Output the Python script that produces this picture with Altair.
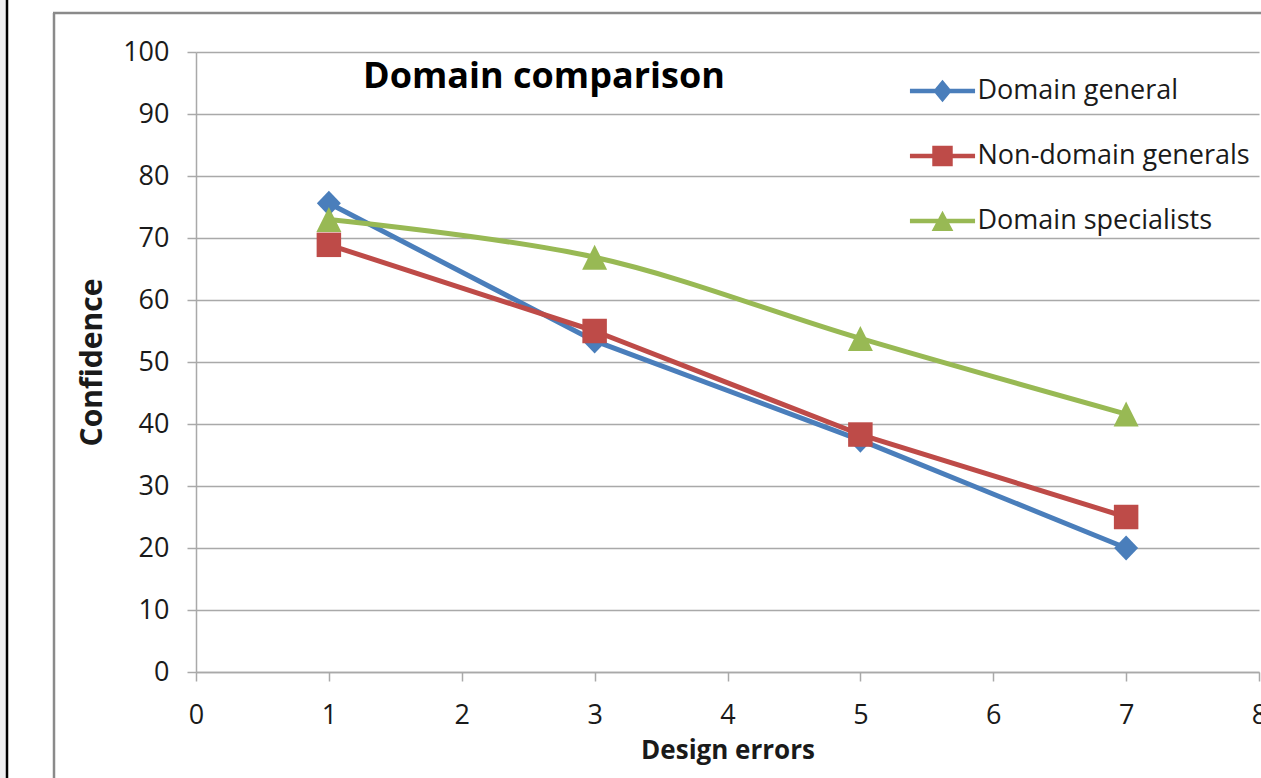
import altair as alt
import pandas as pd

# ---- data ----
x_values = [1, 3, 5, 7]
series_names = ["Domain general", "Non-domain generals", "Domain specialists"]
domain_general = [75.6, 53.4, 37.4, 20.0]
non_domain_generals = [68.9, 55.0, 38.3, 25.0]
domain_specialists = [73.0, 66.9, 53.8, 41.6]
series_colors = ["#4A7EBB", "#BE4B48", "#98B954"]
x_ticks = [0, 1, 2, 3, 4, 5, 6, 7, 8]
y_ticks = [0, 10, 20, 30, 40, 50, 60, 70, 80, 90, 100]

rows = []
for name, vals in zip(series_names, [domain_general, non_domain_generals, domain_specialists]):
    for i, (xv, yv) in enumerate(zip(x_values, vals)):
        rows.append({"series": name, "x": xv, "y": yv, "order": i})
df = pd.DataFrame(rows)

FONT = "Open Sans"
GRAY = "#a9a9a9"
TXT = "#1a1a1a"

color_scale = alt.Scale(domain=series_names, range=series_colors)

x_enc = alt.X(
    "x:Q",
    scale=alt.Scale(domain=[0, 8], nice=False, zero=False),
    axis=alt.Axis(
        values=x_ticks, grid=False, title="Design errors",
        domainColor=GRAY, domainWidth=1.5, tickColor=GRAY, tickWidth=1.5, tickSize=9,
        labelFont=FONT, labelFontSize=27, labelColor=TXT, labelPadding=21,
        labelFlush=False, labelOverlap=False,
        titleFont=FONT, titleFontSize=26, titleFontWeight="bold", titleColor=TXT,
        titleX=531.5, titleY=86, titleBaseline="alphabetic",
    ),
)
y_enc = alt.Y(
    "y:Q",
    scale=alt.Scale(domain=[0, 100], nice=False),
    axis=alt.Axis(
        values=y_ticks, grid=True, gridColor=GRAY, gridWidth=1.5, title="Confidence",
        domainColor=GRAY, domainWidth=1.5, tickColor=GRAY, tickWidth=1.5, tickSize=9,
        labelFont=FONT, labelFontSize=27, labelColor=TXT, labelPadding=18,
        labelFlush=False, labelOverlap=False,
        titleFont=FONT, titleFontSize=30, titleFontWeight="bold", titleColor=TXT,
        titleX=-95, titleY=310, titleBaseline="alphabetic", titleAngle=-90,
    ),
)

interps = ["linear", "linear", "catmull-rom"]
point_shapes = ["M0,-1.05L1,0L0,1.05L-1,0Z", "square", "M0,-1L1,1L-1,1Z"]
point_sizes = [576, 600, 625]
legend_shapes = [
    "M-1.05,-0.075L1.05,-0.075L1.05,0.075L-1.05,0.075Z M0,-0.36L0.3,0L0,0.36L-0.3,0Z",
    "M-1.05,-0.075L1.05,-0.075L1.05,0.075L-1.05,0.075Z M-0.33,-0.33L0.33,-0.33L0.33,0.33L-0.33,0.33Z",
    "M-1.05,-0.075L1.05,-0.075L1.05,0.075L-1.05,0.075Z M0,-0.33L0.35,0.32L-0.35,0.32Z",
]

layers = []

# decorative frame of the original screenshot
deco = pd.DataFrame({"k": [0]})
layers.append(alt.Chart(deco).mark_rect(color="#efeff1").encode(
    x=alt.value(-196), x2=alt.value(-190), y=alt.value(-52), y2=alt.value(726)))
layers.append(alt.Chart(deco).mark_rule(color="#000000", strokeWidth=2.5).encode(
    x=alt.value(-189), y=alt.value(-52), y2=alt.value(726)))
layers.append(alt.Chart(deco).mark_rule(color="#8a8a8a", strokeWidth=2.5).encode(
    x=alt.value(-142), y=alt.value(-39), y2=alt.value(726)))
layers.append(alt.Chart(deco).mark_rule(color="#8a8a8a", strokeWidth=2.5).encode(
    x=alt.value(-143), x2=alt.value(1070), y=alt.value(-39)))

for name, interp in zip(series_names, interps):
    layers.append(
        alt.Chart(df).transform_filter(alt.datum.series == name)
        .mark_line(strokeWidth=5, interpolate=interp, strokeCap="round", strokeJoin="round")
        .encode(x=x_enc, y=y_enc, order="order:Q",
                color=alt.Color("series:N", scale=color_scale, legend=None))
    )

for name, shp, sz in zip(series_names, point_shapes, point_sizes):
    layers.append(
        alt.Chart(df).transform_filter(alt.datum.series == name)
        .mark_point(filled=True, shape=shp, size=sz, opacity=1, strokeWidth=0)
        .encode(x=x_enc, y=y_enc,
                color=alt.Color("series:N", scale=color_scale, legend=None))
    )

legend = alt.Legend(
    title=None, orient="none", legendX=715.5, legendY=8,
    symbolSize=3844, symbolStrokeWidth=0, symbolOpacity=1,
    labelFont=FONT, labelFontSize=27, labelColor=TXT, labelOffset=4,
    labelLimit=500, rowPadding=21, padding=0,
)
layers.append(
    alt.Chart(df).transform_filter("false")
    .mark_point(filled=True, opacity=1)
    .encode(
        x=x_enc, y=y_enc,
        color=alt.Color("series:N", scale=color_scale, legend=legend),
        shape=alt.Shape("series:N", scale=alt.Scale(domain=series_names, range=legend_shapes), legend=legend),
    )
)

chart = alt.layer(*layers).resolve_legend(
    color="independent", shape="independent"
).properties(
    width=1063,
    height=620,
    autosize=alt.AutoSizeParams(type="none"),
    padding={"left": 196, "top": 52, "right": 2, "bottom": 106},
    background="white",
    title=alt.TitleParams(
        "Domain comparison", anchor="start", frame="group", orient="top",
        dx=167, dy=125, offset=0, baseline="alphabetic",
        font=FONT, fontSize=36, fontWeight="bold", color="#000000",
    ),
).configure_view(strokeWidth=0)

chart.save("out.html", embed_options={"renderer": "svg", "actions": False})
